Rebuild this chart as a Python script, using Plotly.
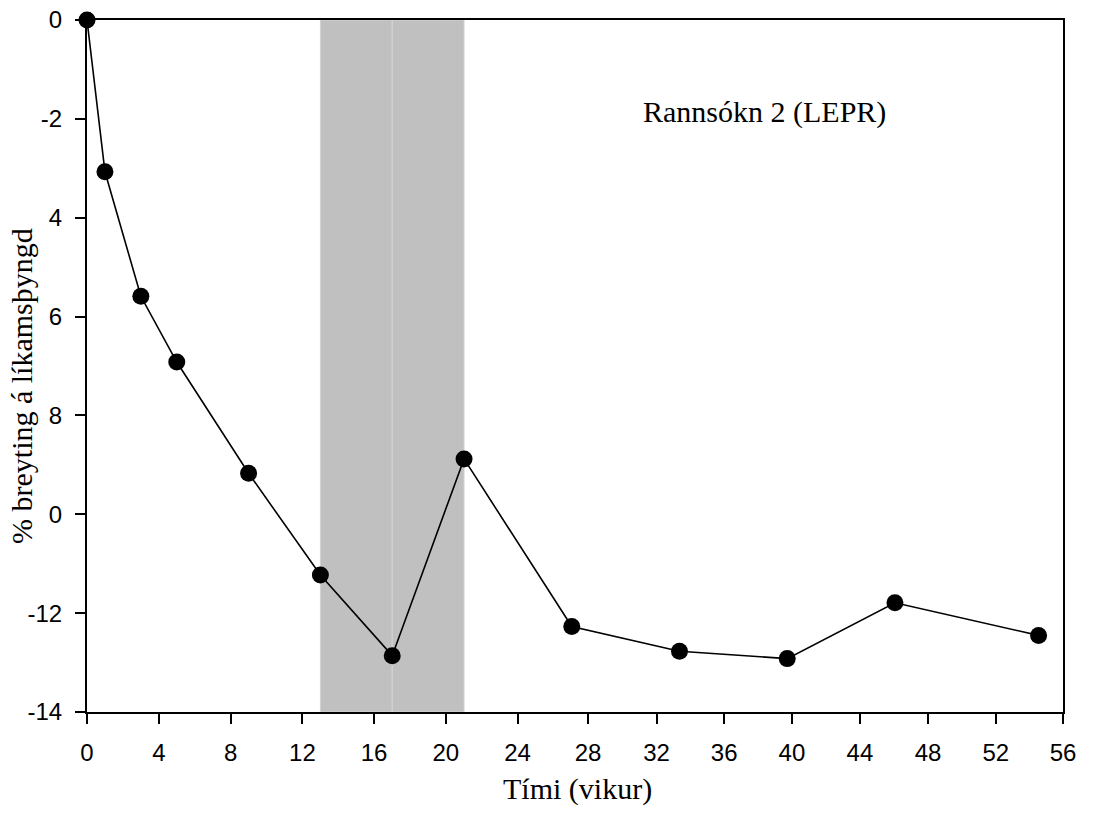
import plotly.graph_objects as go

# Data
weeks = [0, 1, 3, 5, 9, 13, 17, 21, 27, 33, 39, 45, 53]
pct_change = [0.0, -3.07, -5.59, -6.92, -9.17, -11.23, -12.86, -8.88,
              -12.27, -12.77, -12.92, -11.79, -12.45]

# Shaded periods (weeks)
shade_periods = [(13, 17), (17, 21)]

# Axis tick labels as printed in the original
x_tick_text = ["0", "4", "8", "12", "16", "20", "24", "28", "32", "36",
               "40", "44", "48", "52", "56"]
x_tick_vals = [0, 4.01, 8.0, 12.0, 15.99, 19.98, 23.98, 27.91, 31.72,
               35.49, 39.26, 43.05, 46.84, 50.62, 54.36]
y_tick_vals = [0, -2, -4, -6, -8, -10, -12, -14]
y_tick_text = ["0", "-2", "4", "6", "8", "0", "-12", "-14"]

x_range = [0, 54.36]
y_range = [-14, 0]

fig = go.Figure()

for x0, x1 in shade_periods:
    fig.add_shape(type="rect", xref="x", yref="y", x0=x0, x1=x1,
                  y0=y_range[0], y1=y_range[1],
                  fillcolor="#c0c0c0", line=dict(color="#d4d4d4", width=1),
                  layer="below")

fig.add_trace(go.Scatter(
    x=weeks, y=pct_change, mode="lines+markers",
    line=dict(color="black", width=1.6),
    marker=dict(color="black", size=17),
    cliponaxis=False, showlegend=False,
))

axis_font = dict(family="Liberation Sans, Arial, sans-serif", size=24, color="black")
serif = "Liberation Serif, Times New Roman, serif"

fig.update_xaxes(
    range=x_range, tickmode="array", tickvals=x_tick_vals, ticktext=x_tick_text,
    ticks="outside", ticklen=10, tickwidth=2, tickcolor="black",
    showline=True, linecolor="black", linewidth=2, mirror=True,
    showgrid=False, zeroline=False, tickfont=axis_font,
    automargin=False, ticklabelstandoff=8, ticklabeloverflow="allow",
)
fig.update_yaxes(
    range=y_range, tickmode="array", tickvals=y_tick_vals, ticktext=y_tick_text,
    ticks="outside", ticklen=10, tickwidth=2, tickcolor="black",
    showline=True, linecolor="black", linewidth=2, mirror=True,
    showgrid=False, zeroline=False, tickfont=axis_font,
    automargin=False, ticklabelstandoff=8, ticklabeloverflow="allow",
)

# plot area spans x 87..1063, y 20..712 of the 1112x828 page
FW, FH = 1112, 828
L, T, W, H = 87, 20, 976, 692

def px(xp):
    return (xp - L) / W

def py(yp):
    return (T + H - yp) / H

fig.add_annotation(text="Rannsókn 2 (LEPR)", xref="paper", yref="paper",
                   x=px(764), y=py(112), xanchor="center", yanchor="middle",
                   showarrow=False, font=dict(family=serif, size=30, color="black"))
fig.add_annotation(text="Tími (vikur)", xref="paper", yref="paper",
                   x=px(577), y=py(789), xanchor="center", yanchor="middle",
                   showarrow=False, font=dict(family=serif, size=30, color="black"))
fig.add_annotation(text="% breyting á líkamsþyngd", xref="paper", yref="paper",
                   x=px(21), y=py(386), textangle=-90, xanchor="center", yanchor="middle",
                   showarrow=False, font=dict(family=serif, size=30, color="black"))

fig.update_layout(
    width=FW, height=FH,
    margin=dict(l=L, r=FW - L - W, t=T, b=FH - T - H),
    paper_bgcolor="white", plot_bgcolor="white",
)

fig.write_html("out.html", config={"displayModeBar": False},
               post_script="document.body.style.margin='0';document.body.style.overflow='hidden';")
